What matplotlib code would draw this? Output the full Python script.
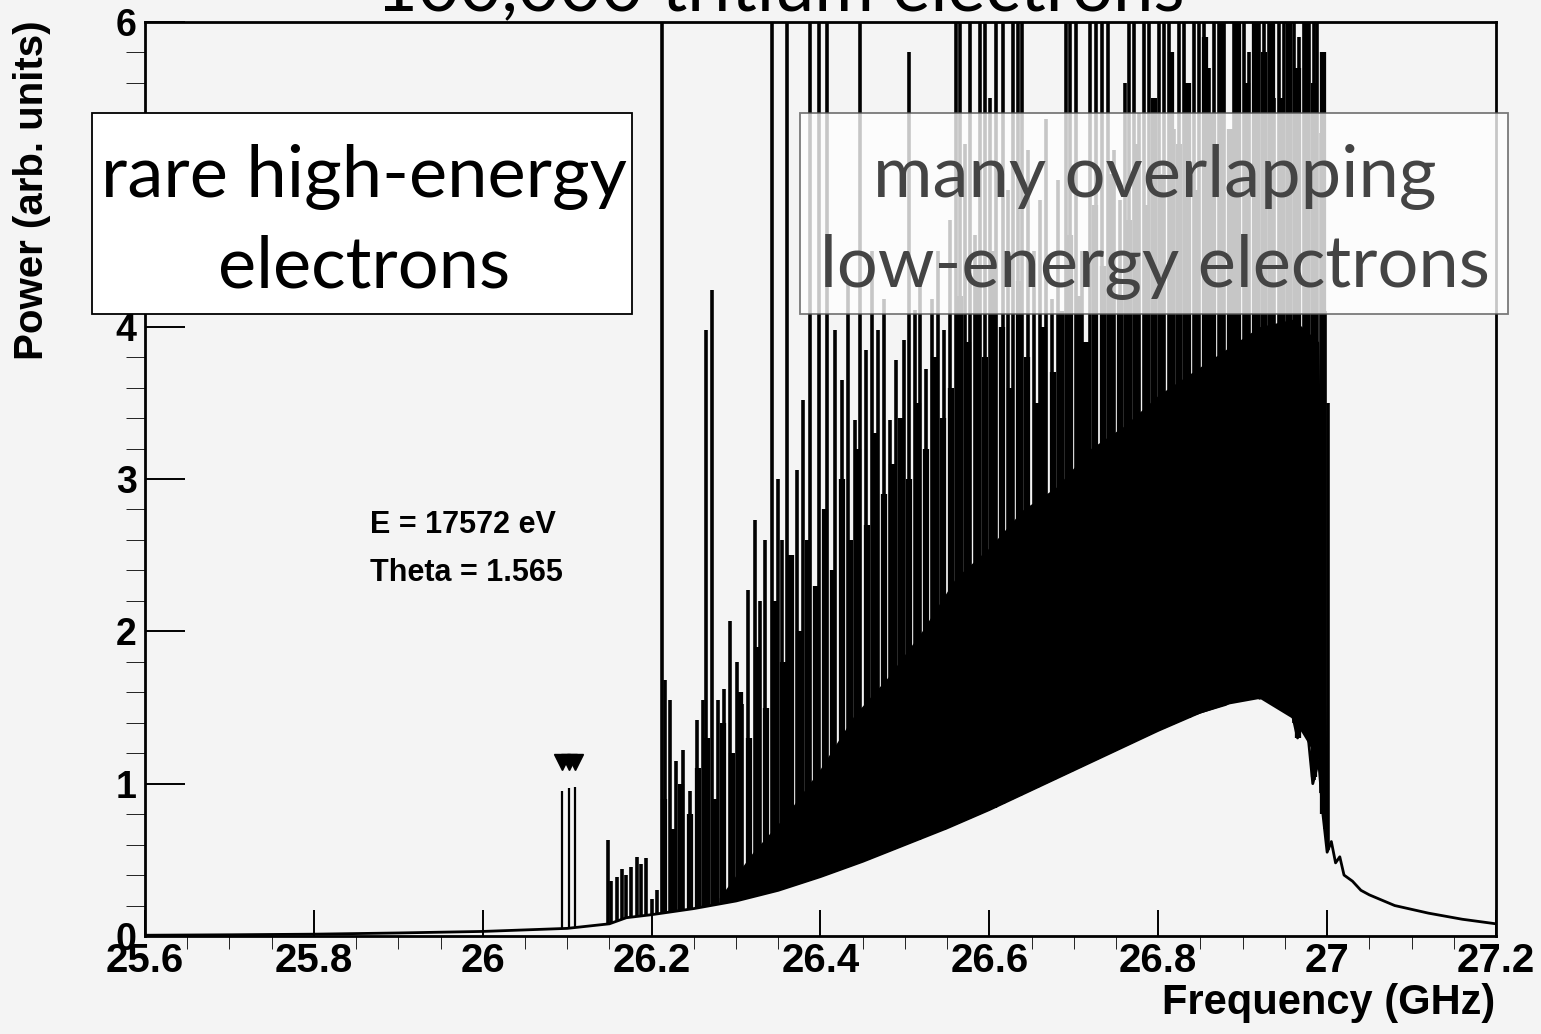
import numpy as np
import matplotlib
matplotlib.use("Agg")
from matplotlib import pyplot as plt
from matplotlib.patches import Rectangle

# lower edge of the spectrum (continuum of the overlapping electrons)
cont_freq = [25.60, 25.70, 25.80, 25.90, 26.00, 26.05, 26.10, 26.15, 26.17, 26.20,
             26.25, 26.30, 26.35, 26.40, 26.45, 26.50, 26.55, 26.60, 26.65, 26.70,
             26.75, 26.80, 26.85, 26.88, 26.90, 26.912, 26.92, 26.94, 26.955, 26.965,
             26.975, 26.983, 26.99, 26.995, 27.00, 27.005,
             27.01, 27.015, 27.02, 27.03, 27.04, 27.05, 27.08, 27.12, 27.16, 27.20]
cont_power = [0.005, 0.008, 0.012, 0.02, 0.03, 0.04, 0.05, 0.08, 0.12, 0.14,
              0.18, 0.23, 0.30, 0.39, 0.49, 0.60, 0.71, 0.83, 0.96, 1.09,
              1.22, 1.35, 1.47, 1.52, 1.58, 1.90, 1.56, 1.62, 1.55, 1.30,
              1.45, 1.00, 1.15, 0.80, 0.55, 0.62,
              0.48, 0.52, 0.40, 0.36, 0.30, 0.27, 0.20, 0.15, 0.11, 0.08]

# solid black core of the overlapping region
core_freq = [26.28, 26.32, 26.36, 26.40, 26.44, 26.48, 26.52, 26.56, 26.60, 26.64,
             26.68, 26.72, 26.76, 26.80, 26.84, 26.88, 26.92, 26.96, 26.99, 27.00]
core_power = [0.25, 0.55, 0.80, 1.10, 1.45, 1.70, 2.00, 2.35, 2.55, 2.80,
              2.95, 3.20, 3.35, 3.55, 3.70, 3.85, 4.00, 4.05, 3.90, 1.00]

# individual spikes
spike_freq = [26.094, 26.102, 26.109, 26.148, 26.152, 26.159, 26.165, 26.170, 26.176, 26.183,
              26.187, 26.193, 26.200, 26.206, 26.212, 26.216, 26.222, 26.229, 26.237, 26.245,
              26.254, 26.261, 26.264, 26.271, 26.279, 26.286, 26.293, 26.301, 26.307, 26.314,
              26.322, 26.328, 26.334, 26.343, 26.350, 26.354, 26.360, 26.366, 26.372, 26.379,
              26.388, 26.398, 26.408, 26.417, 26.425, 26.433, 26.441, 26.447, 26.454, 26.461,
              26.468, 26.475, 26.482, 26.489, 26.499, 26.505, 26.512, 26.518, 26.525, 26.532,
              26.539, 26.546, 26.553, 26.560, 26.565, 26.571, 26.577, 26.583, 26.589, 26.595,
              26.601, 26.608, 26.616, 26.622, 26.628, 26.634, 26.639, 26.646, 26.653, 26.660,
              26.667, 26.674, 26.681, 26.691, 26.695, 26.703, 26.710, 26.719, 26.726, 26.733,
              26.740, 26.748, 26.755, 26.761, 26.765, 26.771, 26.777, 26.783, 26.789, 26.795,
              26.801, 26.807, 26.813, 26.819, 26.825, 26.830, 26.836, 26.842, 26.848, 26.854,
              26.860, 26.866, 26.872, 26.878, 26.884, 26.890, 26.896, 26.902, 26.907, 26.913,
              26.919, 26.925, 26.931, 26.937, 26.943, 26.949, 26.955, 26.961, 26.967, 26.973,
              26.978, 26.984, 26.988, 26.993, 26.997, 27.001]
spike_power = [0.95, 0.97, 0.98, 0.63, 0.36, 0.39, 0.44, 0.40, 0.45, 0.52,
               0.47, 0.51, 0.24, 0.30, 6.50, 1.68, 1.55, 1.15, 1.22, 0.95,
               1.42, 1.55, 3.98, 4.24, 1.55, 1.62, 2.07, 1.80, 1.52, 2.27,
               2.73, 2.20, 2.60, 6.50, 3.00, 2.60, 6.50, 2.47, 3.06, 3.52,
               6.50, 6.50, 6.50, 3.98, 3.65, 4.31, 3.39, 6.50, 3.85, 4.50,
               3.98, 4.18, 3.39, 3.78, 3.91, 5.80, 4.11, 4.31, 3.72, 4.18,
               4.50, 3.98, 4.70, 6.50, 6.50, 5.20, 6.50, 4.60, 6.50, 6.50,
               5.50, 6.50, 6.50, 4.90, 6.50, 6.50, 6.50, 5.16, 4.50, 4.83,
               5.36, 4.18, 4.96, 6.50, 6.50, 6.50, 4.50, 6.50, 6.50, 6.50,
               6.50, 5.16, 4.83, 5.60, 6.50, 6.50, 5.40, 6.50, 6.50, 4.90,
               6.50, 6.50, 6.50, 5.30, 6.50, 6.50, 4.70, 6.50, 6.50, 6.50,
               5.70, 6.50, 6.50, 6.50, 5.00, 6.50, 6.50, 6.50, 5.80, 6.50,
               6.50, 6.50, 6.50, 5.50, 6.50, 6.50, 6.50, 6.50, 5.90, 6.50,
               6.50, 6.50, 6.50, 5.27, 4.10, 3.50]

# the many smaller overlapping lines between the spikes
dense_freq = [26.215, 26.225, 26.235, 26.245, 26.255, 26.265, 26.275, 26.285, 26.295,
              26.305, 26.315, 26.325, 26.335, 26.345, 26.355, 26.365, 26.375, 26.385, 26.395,
              26.405, 26.415, 26.425, 26.435, 26.445, 26.455, 26.465, 26.475, 26.485, 26.495,
              26.505, 26.515, 26.525, 26.535, 26.545, 26.555, 26.565, 26.575, 26.585, 26.595,
              26.605, 26.615, 26.625, 26.635, 26.645, 26.655, 26.665, 26.675, 26.685, 26.695,
              26.705, 26.715, 26.725, 26.735, 26.745, 26.755, 26.765, 26.775, 26.785, 26.795,
              26.805, 26.815, 26.825, 26.835, 26.845, 26.855, 26.865, 26.875, 26.885, 26.895,
              26.905, 26.915, 26.925, 26.935, 26.945, 26.955, 26.965, 26.975, 26.985, 26.995]
dense_power = [0.9, 0.7, 1.0, 0.8, 1.1, 1.3, 0.9, 1.4, 1.2,
               1.6, 1.3, 1.9, 1.5, 2.2, 1.8, 2.5, 2.0, 2.6, 2.3,
               2.8, 2.4, 3.0, 2.6, 3.2, 2.7, 3.3, 2.9, 3.1, 3.4,
               3.0, 3.5, 3.2, 3.8, 3.4, 3.6, 4.2, 3.9, 4.4, 3.8,
               4.5, 4.0, 3.6, 4.3, 3.8, 3.5, 4.0, 3.7, 4.1, 4.6,
               4.2, 3.9, 4.8, 4.4, 5.0, 4.2, 4.7, 5.2, 4.8, 5.5,
               5.0, 5.8, 5.2, 5.6, 4.9, 5.9, 5.4, 6.5, 5.3, 6.5,
               5.6, 6.5, 5.8, 6.5, 5.5, 6.5, 5.7, 6.5, 5.6, 5.8]

# the three marked high-energy lines
marker_freq = [26.094, 26.102, 26.109]
marker_power = [1.14, 1.14, 1.14]

xticks = [25.6, 25.8, 26.0, 26.2, 26.4, 26.6, 26.8, 27.0, 27.2]
xtick_labels = ["25.6", "25.8", "26", "26.2", "26.4", "26.6", "26.8", "27", "27.2"]
yticks = [0, 1, 2, 3, 4, 5, 6]
ytick_labels = ["0", "1", "2", "3", "4", "5", "6"]

bg = "#f4f4f4"
W, H = 1541, 1034
fig = plt.figure(figsize=(W / 100, H / 100), dpi=100, facecolor=bg)
ax = fig.add_axes([145 / W, 1 - 936 / H, (1496 - 145) / W, (936 - 22) / H])
ax.set_facecolor(bg)

# spectrum
lo = np.interp(core_freq, cont_freq, cont_power)
ax.fill_between(core_freq, lo, core_power, color="black", lw=0)
base = np.interp(dense_freq, cont_freq, cont_power)
ax.vlines(dense_freq, base, dense_power, colors="black", lw=4.5)
base = np.interp(spike_freq, cont_freq, cont_power)
ax.vlines(spike_freq[:3], base[:3], spike_power[:3], colors="black", lw=1.6)
ax.vlines(spike_freq[3:], base[3:], spike_power[3:], colors="black", lw=2.6)
ax.plot(cont_freq, cont_power, color="black", lw=2)
ax.plot(marker_freq, marker_power, "v", color="black", ms=11, clip_on=False)

ax.set_xlim(25.6, 27.2)
ax.set_ylim(0, 6)
ax.set_xticks(xticks)
ax.set_xticklabels(xtick_labels)
ax.set_xticks(np.arange(25.6, 27.2001, 0.05), minor=True)
ax.set_yticks(yticks)
ax.set_yticklabels(ytick_labels)
ax.set_yticks(np.arange(0, 6.001, 0.2), minor=True)
ax.tick_params(direction="in", width=1.4, colors="black")
ax.tick_params(axis="x", which="major", length=19, pad=4)
ax.tick_params(axis="x", which="minor", length=9)
ax.tick_params(axis="y", which="major", length=29, pad=6)
ax.tick_params(axis="y", which="minor", length=14)
for lab in ax.get_xticklabels():
    lab.set_fontfamily("Liberation Sans")
    lab.set_fontweight("bold")
    lab.set_fontsize(29)
for lab in ax.get_yticklabels():
    lab.set_fontfamily("Liberation Sans")
    lab.set_fontweight("bold")
    lab.set_fontsize(27)
for s in ax.spines.values():
    s.set_linewidth(2)

fig.text(1495 / W, 1 - 1003 / H, "Frequency (GHz)", ha="right", va="center",
         fontsize=30, fontweight="bold", family="Liberation Sans")
fig.text(32 / W, 1 - 190 / H, "Power (arb. units)", ha="center", va="center",
         rotation=90, fontsize=29, fontweight="bold", family="Liberation Sans")

ax.text(25.866, 2.7, "E = 17572 eV", ha="left", va="center",
        fontsize=22, fontweight="bold", family="Liberation Sans")
ax.text(25.866, 2.38, "Theta = 1.565", ha="left", va="center",
        fontsize=22, fontweight="bold", family="Liberation Sans")

# title, cut off by the top of the figure
fig.text(780 / W, 1 - 10 / H, "100,000 tritium electrons", ha="center", va="baseline",
         fontsize=52, family="Lato")

# annotation boxes
fig.add_artist(Rectangle((92 / W, 1 - 314 / H), (632 - 92) / W, (314 - 113) / H,
                         transform=fig.transFigure, facecolor="white", edgecolor="black",
                         lw=1.3, zorder=5))
fig.text(364 / W, 1 - 197 / H, "rare high-energy", ha="center", va="baseline",
         fontsize=52, family="Lato", zorder=6)
fig.text(364 / W, 1 - 287 / H, "electrons", ha="center", va="baseline",
         fontsize=52, family="Lato", zorder=6)

fig.add_artist(Rectangle((800 / W, 1 - 314 / H), (1508 - 800) / W, (314 - 113) / H,
                         transform=fig.transFigure, facecolor="white", alpha=0.78,
                         edgecolor="#555555", lw=1.3, zorder=5))
fig.text(1155 / W, 1 - 197 / H, "many overlapping", ha="center", va="baseline",
         fontsize=52, family="Lato", color="#444444", zorder=6)
fig.text(1155 / W, 1 - 287 / H, "low-energy electrons", ha="center", va="baseline",
         fontsize=52, family="Lato", color="#444444", zorder=6)

fig.savefig("out.png", dpi=100, facecolor=bg)
